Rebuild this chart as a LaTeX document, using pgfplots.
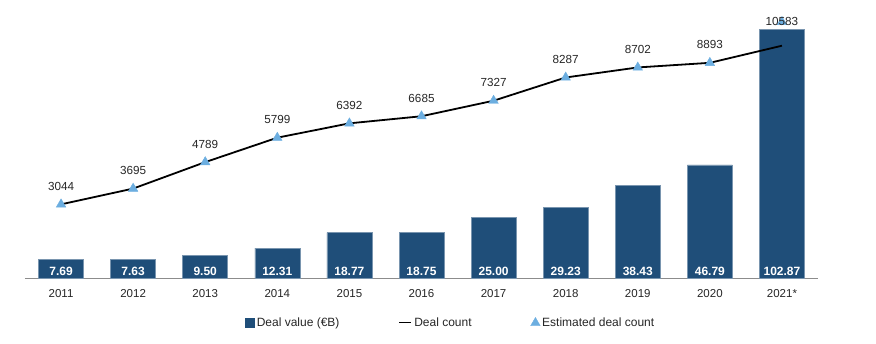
\documentclass[border=0pt]{standalone}
\usepackage{pgfplots}
\pgfplotsset{compat=1.18}
\usepackage{fontspec}
\setmainfont{Liberation Sans}
\definecolor{barblue}{HTML}{1F4E79}
\definecolor{tri}{HTML}{6CAEE0}
\begin{document}
\begin{tikzpicture}
\pgfplotsset{
  base/.style={scale only axis, width=793pt, height=271pt,
    xmin=-0.5, xmax=10.5, ymin=0, clip=false,
    /pgf/number format/assume math mode=true,
    /pgf/number format/1000 sep={}},
}
\begin{axis}[base, ymax=112,
  axis x line*=bottom, hide y axis,
  axis line style={draw=black!45, line width=0.8pt},
  xtick={0,1,2,3,4,5,6,7,8,9,10},
  xticklabels={2011,2012,2013,2014,2015,2016,2017,2018,2019,2020,2021*},
  major tick length=0pt,
  xticklabel style={font=\fontsize{11.5}{13}\selectfont, text=black!85, yshift=-7.5pt},
]
\addplot[ybar, bar width=45pt, fill=barblue, draw=barblue!60!white, line width=0.5pt,
  visualization depends on=y \as \rawy,
  nodes near coords={\pgfmathprintnumber[fixed,fixed zerofill,precision=2]{\pgfplotspointmeta}},
  every node near coord/.append style={anchor=base, yshift={2.5pt-\rawy*2.41964pt},
    text=white, font=\bfseries\fontsize{12}{13}\selectfont}]
coordinates {(0,7.69) (1,7.63) (2,9.50) (3,12.31) (4,18.77) (5,18.75) (6,25.00) (7,29.23) (8,38.43) (9,46.79) (10,102.87)};
\end{axis}
\begin{axis}[base, ymax=11200, hide axis,
  legend columns=3,
  legend style={at={(0.537,-0.166)}, anchor=center, draw=none, fill=none,
    font=\fontsize{12}{14}\selectfont, text=black!85,
    /tikz/every even column/.append style={column sep=57pt}},
]
\addlegendimage{legend image code/.code={\fill[barblue] (0pt,-4pt) rectangle (9pt,5pt);}}
\addlegendentry{Deal value (€B)}
\addplot[black, line width=1.8pt,
  legend image code/.code={\draw[black, line width=1.8pt] (0pt,0.5pt) -- (12pt,0.5pt);}]
coordinates {(0,3044) (1,3695) (2,4789) (3,5799) (4,6392) (5,6685) (6,7327) (7,8287) (8,8702) (9,8893) (10,9600)};
\addlegendentry{Deal count}
\addplot[only marks, mark=triangle*, mark size=5.5pt, mark options={fill=tri, draw=tri},
  nodes near coords,
  every node near coord/.append style={anchor=base, yshift=14pt, text=black!85, font=\fontsize{11.7}{13}\selectfont}]
coordinates {(0,3044) (1,3695) (2,4789) (3,5799) (4,6392) (5,6685) (6,7327) (7,8287) (8,8702) (9,8893)};
\addlegendentry{Estimated deal count}
\addplot[only marks, mark=triangle*, mark size=5.5pt, mark options={fill=tri, draw=tri}, forget plot,
  nodes near coords,
  every node near coord/.append style={anchor=base, yshift=-4pt, text=black!85, font=\fontsize{11.7}{13}\selectfont}]
coordinates {(10,10583)};
\end{axis}
\pgfresetboundingbox
\useasboundingbox (-25pt,-65pt) rectangle (851pt,278pt);
\end{tikzpicture}
\end{document}
